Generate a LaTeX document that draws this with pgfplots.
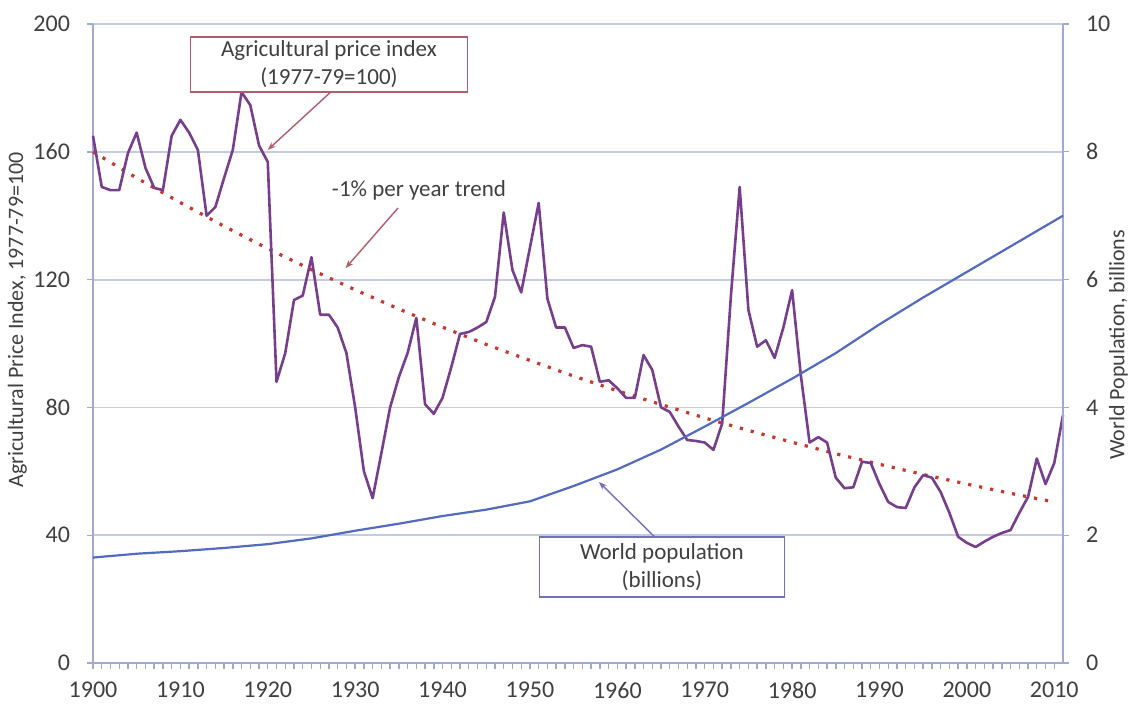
\documentclass[border=0pt]{standalone}
\usepackage{pgfplots}
\pgfplotsset{compat=1.18}
\usepackage{fontspec}
\setmainfont{Carlito}
\usetikzlibrary{arrows.meta}
\definecolor{gridc}{RGB}{196,203,225}
\definecolor{axc}{RGB}{160,170,208}
\definecolor{pricec}{RGB}{118,62,140}
\definecolor{popc}{RGB}{82,106,192}
\definecolor{trendc}{RGB}{200,55,45}
\definecolor{boxa}{RGB}{176,92,108}
\definecolor{boxb}{RGB}{112,112,192}
\definecolor{txt}{RGB}{64,64,64}

\pgfplotstableread{
year price
1900 165
1901 149
1902 148
1903 148
1904 159.6
1905 166
1906 155
1907 148.7
1908 148
1909 165
1910 170
1911 166
1912 160.6
1913 140
1914 142.7
1915 151.8
1916 160.6
1917 178.7
1918 174.6
1919 162
1920 156.8
1921 88
1922 97
1923 113.6
1924 115
1925 127
1926 109
1927 109
1928 105
1929 97
1930 80
1931 60
1932 51.6
1933 65.7
1934 80
1935 89.5
1936 97
1937 108
1938 81
1939 78
1940 83
1941 92.6
1942 103
1943 103.6
1944 105
1945 106.7
1946 114.6
1947 141
1948 123
1949 116
1950 130
1951 144
1952 114
1953 105
1954 105
1955 98.6
1956 99.5
1957 99
1958 88
1959 88.5
1960 86
1961 83
1962 83
1963 96.4
1964 91.7
1965 80
1966 78.6
1967 74
1968 69.8
1969 69.5
1970 69
1971 66.7
1972 75
1973 115
1974 149
1975 110.5
1976 99
1977 101
1978 95.5
1979 105
1980 116.7
1981 90
1982 69
1983 70.7
1984 69
1985 58
1986 54.7
1987 55
1988 63
1989 62.6
1990 56
1991 50.4
1992 48.8
1993 48.5
1994 55
1995 58.8
1996 58
1997 53.5
1998 47
1999 39.5
2000 37.6
2001 36.3
2002 38
2003 39.5
2004 40.7
2005 41.6
2006 47
2007 52
2008 64
2009 56
2010 62.6
2011 77.6
}\pricetable

\pgfplotstableread{
year trend
1900 160
1905 151.8
1910 144.1
1915 136.7
1920 129.7
1925 123.1
1930 116.8
1935 110.8
1940 105.1
1945 99.7
1950 94.7
1955 89.8
1960 85.2
1965 80.9
1970 76.7
1975 72.8
1980 69.1
1985 65.5
1990 62.2
1995 59.0
2000 56.0
2005 53.1
2010 50.4
}\trendtable

\pgfplotstableread{
year pop
1900 1.65
1905 1.71
1910 1.75
1915 1.80
1920 1.86
1925 1.95
1930 2.07
1935 2.18
1940 2.30
1945 2.40
1950 2.53
1955 2.77
1960 3.03
1965 3.34
1970 3.70
1975 4.07
1980 4.45
1985 4.85
1990 5.30
1995 5.72
2000 6.12
2005 6.52
2010 6.92
2011 7.00
}\poptable

\begin{document}
\begin{tikzpicture}[font=\fontsize{11.5}{14}\selectfont, text=txt]
\pgfplotsset{
  common/.style={
    scale only axis, width=485pt, height=319.5pt,
    xmin=1900, xmax=2011,
    axis line style={axc, line width=0.9pt},
    tick style={axc, line width=0.7pt},
    tick align=outside,
    major tick length=3pt, minor tick length=3pt,
    /pgf/number format/assume math mode=true,
    ticklabel style={font=\fontsize{12}{14}\selectfont, text=txt},
    clip=false,
  }
}
\begin{axis}[common,
  ymin=0, ymax=200,
  axis x line*=bottom, axis y line*=left,
  ytick={0,40,...,200},
  xtick={1900,1910,...,2010},
  minor x tick num=9,
  x tick label style={/pgf/number format/1000 sep={}, yshift=-3pt},
  y tick label style={xshift=-5pt},
  ymajorgrids, grid style={gridc, line width=0.9pt},
  ylabel={Agricultural Price Index, 1977-79=100},
  ylabel style={at={(axis description cs:-0.078,0.537)}, anchor=center, font=\fontsize{11}{13}\selectfont, text=txt},
]
\coordinate (BL) at (rel axis cs:0,0);
\addplot[trendc, line width=1.6pt, dash pattern=on 1.6pt off 4pt] table[x=year, y=trend] {\trendtable};
\addplot[pricec, line width=1.3pt, line join=round] table[x=year, y=price] {\pricetable};

\node[draw=boxa, line width=0.8pt, fill=white, align=center, minimum width=138.5pt, minimum height=27.5pt, inner sep=1pt]
  at (axis cs:1927.0,187.3) {Agricultural price index\\(1977-79=100)};
\draw[boxa, line width=0.7pt, -{Stealth[length=4pt,width=3pt]}] (axis cs:1927.2,178.7) -- (axis cs:1920.0,160.6);
\node at (axis cs:1937.3,148) {-1\% per year trend};
\draw[boxa, line width=0.7pt, -{Stealth[length=4pt,width=3pt]}] (axis cs:1934.9,142.4) -- (axis cs:1928.9,123.6);

\node[draw=boxb, line width=0.8pt, fill=white, align=center, minimum width=122.5pt, minimum height=30pt, inner sep=1pt]
  at (axis cs:1965.1,30.0) {World population\\(billions)};
\draw[boxb, line width=0.7pt, -{Stealth[length=4pt,width=3pt]}] (axis cs:1964.3,39.4) -- (axis cs:1957.9,56.65);
\end{axis}

\begin{axis}[common,
  ymin=0, ymax=10,
  axis x line=none, axis y line*=right,
  ytick={0,2,...,10},
  y tick label style={xshift=5pt},
  ylabel={World Population, billions},
  ylabel style={at={(axis description cs:1.0572,0.498)}, anchor=center, font=\fontsize{11}{13}\selectfont, text=txt},
]
\addplot[popc, line width=1.1pt] table[x=year, y=pop] {\poptable};
\end{axis}
\pgfresetboundingbox
\path (BL) ++(-46.5pt,-22pt) rectangle ++(564.5pt,353.5pt);
\end{tikzpicture}
\end{document}
